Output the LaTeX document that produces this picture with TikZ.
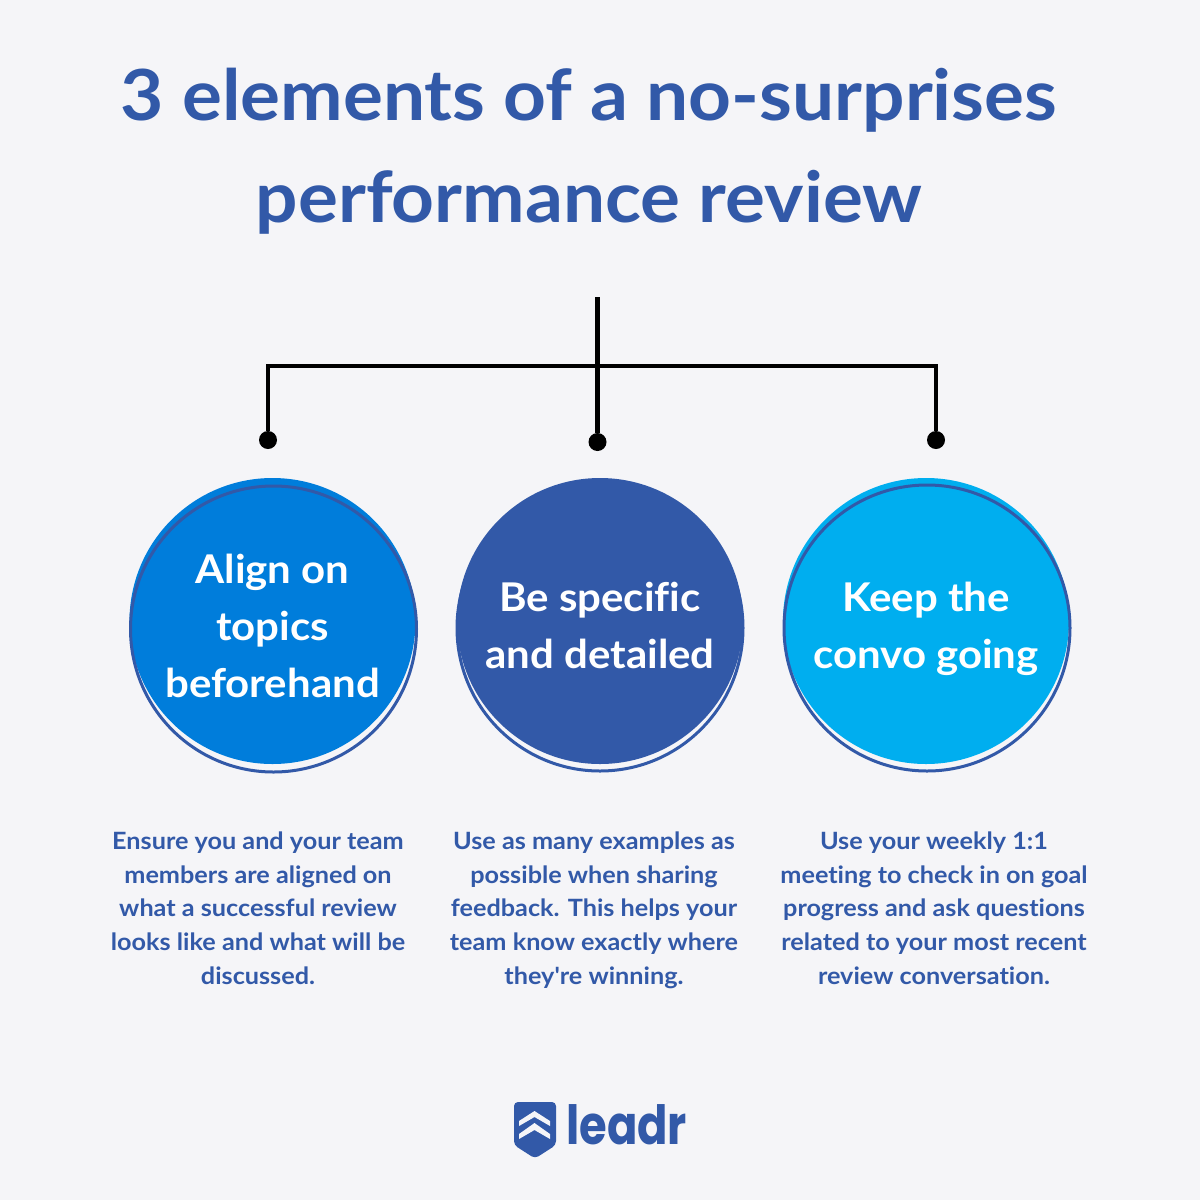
\documentclass[tikz,border=0pt]{standalone}
\usepackage{fontspec}
\newfontfamily\bodyfont{Lato}[Ligatures=NoCommon,FakeStretch=1.06]
\newfontfamily\logofont{Poppins}[FakeStretch=0.83]
\definecolor{paper}{HTML}{F5F5F8}
\definecolor{navy}{HTML}{3259A8}
\definecolor{midblue}{HTML}{007DDB}
\definecolor{skyblue}{HTML}{00AEEF}
\newcommand{\topicupper}{\rule{0pt}{55pt}}
\newcommand{\topiclower}{\rule[-17pt]{0pt}{17pt}}
\tikzset{
  headline/.style={text=navy,font=\bodyfont\bfseries\fontsize{70.5}{102}\selectfont,align=center},
  topic/.style={circle,minimum size=286pt,inner sep=0pt,text=white,align=center,font=\bodyfont\bfseries\fontsize{39.6}{57}\selectfont},
  ring/.style={circle,draw=navy,line width=3pt,minimum size=286pt,inner sep=0pt},
  blurb/.style={text=navy,align=center,font=\bodyfont\bfseries\fontsize{23.8}{33.7}\selectfont},
  dot/.style={circle,fill=black,minimum size=18pt,inner sep=0pt},
  wire/.style={draw=black,line width=4.5pt}
}
\begin{document}
\begin{tikzpicture}[x=1pt,y=-1pt]
\useasboundingbox (0,0) rectangle (1200,1200);
\fill[paper] (0,0) rectangle (1200,1200);

\node[headline](title) at (589,151) {3 elements of a no-surprises\\performance review};

\node[dot](dot left) at (268,440) {};
\node[dot](dot middle) at (597.5,442) {};
\node[dot](dot right) at (936,440) {};
\coordinate (trunk top) at (597.5,297);
\coordinate (bar) at (597.5,366);

\draw[wire] (trunk top) to (dot middle);
\draw[wire] (dot left) |- (bar);
\draw[wire] (dot right) |- (bar);

\node[topic,fill=midblue](align circle) at (272.5,621) {\topicupper Align on\\topics\\beforehand\topiclower};
\node[topic,fill=navy](specific circle) at (600,621) {\topicupper Be specific\\and detailed\topiclower};
\node[topic,fill=skyblue](convo circle) at (926,621) {\topicupper Keep the\\convo going\topiclower};

\node[ring](align ring) at (273.5,629) {};
\node[ring](specific ring) at (600,628) {};
\node[ring](convo ring) at (927,628) {};

\node[blurb](align text) at (258,908) {Ensure you and your team\\members are aligned on\\what a successful review\\looks like and what will be\\discussed.};
\node[blurb](specific text) at (594,910) {Use as many examples as\\possible when sharing\\feedback. This helps your\\team know exactly where\\they're winning.};
\node[blurb](convo text) at (934,908) {Use your weekly 1:1\\meeting to check in on goal\\progress and ask questions\\related to your most recent\\review conversation.};

% logo
\fill[navy,rounded corners=4pt] (514,1102) -- (556,1102) -- (556,1145) -- (535,1158.5) -- (514,1145) -- cycle;
\fill[paper] (534.5,1111) -- (550,1121) -- (550,1126) -- (534.5,1117) -- (519,1126) -- (519,1121) -- cycle;
\fill[paper] (534.5,1123) -- (550,1134) -- (550,1139) -- (534.5,1130) -- (519,1139) -- (519,1134) -- cycle;
\node[text=navy,font=\logofont\bfseries\fontsize{54}{54}\selectfont,anchor=base west,inner sep=0pt](logo) at (566,1144) {leadr};

\end{tikzpicture}
\end{document}
